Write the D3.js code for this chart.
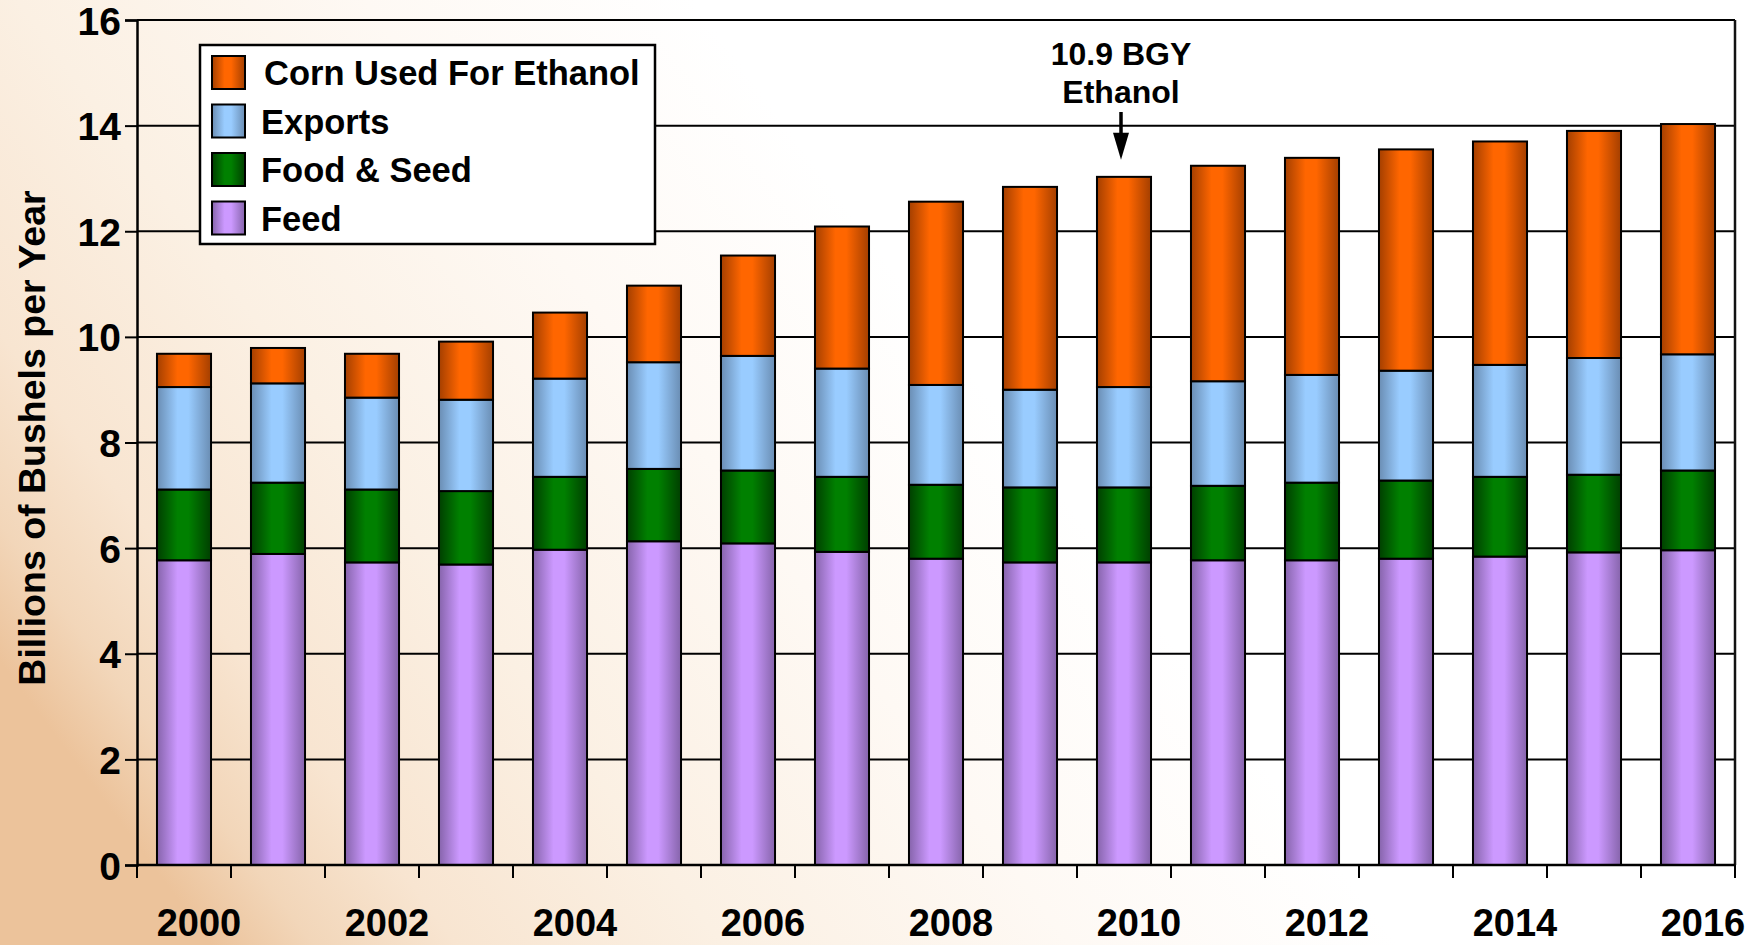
<!DOCTYPE html>
<html>
<head>
<meta charset="utf-8">
<script src="https://cdn.jsdelivr.net/npm/d3@7"></script>
<style>
    html, body { margin: 0; padding: 0; background: #fff; }
    svg { display: block; font-family: "Liberation Sans", Arial, Helvetica, sans-serif; font-weight: bold; }
</style>
</head>
<body>
<svg id="chart"></svg>
<script>
// Corn use by category, billions of bushels per year
const years = ['2000', '2001', '2002', '2003', '2004', '2005', '2006', '2007', '2008',
    '2009', '2010', '2011', '2012', '2013', '2014', '2015', '2016'];
const feed = [5.77, 5.89, 5.73, 5.69, 5.97, 6.13, 6.09, 5.93, 5.80, 5.73, 5.73, 5.77, 5.77, 5.80, 5.84, 5.92, 5.96];
const foodSeed = [1.34, 1.35, 1.38, 1.39, 1.38, 1.37, 1.38, 1.42, 1.40, 1.42, 1.42, 1.41, 1.47, 1.48, 1.51, 1.47, 1.51];
const exportsData = [1.94, 1.88, 1.74, 1.73, 1.86, 2.02, 2.17, 2.05, 1.89, 1.85, 1.90, 1.98, 2.04, 2.08, 2.12, 2.21, 2.20];
const ethanol = [0.63, 0.67, 0.83, 1.10, 1.25, 1.45, 1.90, 2.69, 3.47, 3.84, 3.98, 4.08, 4.11, 4.19, 4.23, 4.30, 4.36];

const seriesKeys = ['feed', 'food', 'exports', 'ethanol'];
const seriesNames = ['Feed', 'Food & Seed', 'Exports', 'Corn Used For Ethanol'];
const yTicks = [0, 2, 4, 6, 8, 10, 12, 14, 16];
const yearLabels = ['2000', '2002', '2004', '2006', '2008', '2010', '2012', '2014', '2016'];
const annotationYear = '2010';
const annotationLines = ['10.9 BGY', 'Ethanol'];

// colours: [dark edge, light centre]
const colors = {
    feed: ['#8664ab', '#cc99ff'],
    food: ['#003f00', '#008000'],
    exports: ['#6a8db3', '#99ccff'],
    ethanol: ['#a43f00', '#ff6600']
};

const width = 1764;
const height = 945;
const margin = {top: 20, right: 29, bottom: 80, left: 137};

const svg = d3.select('#chart')
    .attr('width', width)
    .attr('height', height);

const defs = svg.append('defs');

// background wash, peach on the left fading to white
const bg = defs.append('linearGradient')
    .attr('id', 'bg')
    .attr('x1', 0).attr('y1', 0.7)
    .attr('x2', 1).attr('y2', 0.3);
[[0, '#ecc39b'], [0.05, '#f2d6b9'], [0.12, '#f8e5d1'], [0.25, '#fbf0e3'], [0.42, '#fef9f4'], [0.58, '#ffffff'], [1, '#ffffff']]
    .forEach(s => bg.append('stop').attr('offset', s[0]).attr('stop-color', s[1]));

// cylinder shading for bars
seriesKeys.forEach(key => {
    const g = defs.append('linearGradient')
        .attr('id', 'grad-' + key)
        .attr('x1', 0).attr('x2', 1).attr('y1', 0).attr('y2', 0);
    g.append('stop').attr('offset', 0).attr('stop-color', colors[key][0]);
    g.append('stop').attr('offset', 0.38).attr('stop-color', colors[key][1]);
    g.append('stop').attr('offset', 0.58).attr('stop-color', colors[key][1]);
    g.append('stop').attr('offset', 1).attr('stop-color', colors[key][0]);
});

svg.append('rect')
    .attr('width', width)
    .attr('height', height)
    .attr('fill', 'url(#bg)');

// Build the table d3.stack needs
const table = years.map((year, i) => ({
    year: year,
    feed: feed[i],
    food: foodSeed[i],
    exports: exportsData[i],
    ethanol: ethanol[i]
}));

const stacked = d3.stack().keys(seriesKeys)(table);

const x = d3.scaleBand()
    .domain(years)
    .range([margin.left, width - margin.right])
    .paddingInner(0.425)
    .paddingOuter(0.2125);

const y = d3.scaleLinear()
    .domain([0, 16])
    .range([height - margin.bottom, margin.top]);

// Horizontal grid lines
svg.append('g')
    .selectAll('line')
    .data(yTicks.filter(d => d > 0))
    .enter().append('line')
    .attr('x1', x.range()[0])
    .attr('x2', x.range()[1])
    .attr('y1', d => y(d))
    .attr('y2', d => y(d))
    .attr('stroke', '#000')
    .attr('stroke-width', 2);

// right border
svg.append('line')
    .attr('x1', x.range()[1]).attr('x2', x.range()[1])
    .attr('y1', y(16)).attr('y2', y(0))
    .attr('stroke', '#111')
    .attr('stroke-width', 2.5);

// Stacked bars
const layers = svg.append('g')
    .selectAll('g')
    .data(stacked)
    .enter().append('g')
    .attr('fill', d => 'url(#grad-' + d.key + ')');

layers.selectAll('rect')
    .data(d => d)
    .enter().append('rect')
    .attr('x', d => x(d.data.year))
    .attr('width', x.bandwidth())
    .attr('y', d => y(d[1]))
    .attr('height', d => y(d[0]) - y(d[1]))
    .attr('stroke', '#000')
    .attr('stroke-width', 2);

// Y axis
const yAxis = svg.append('g')
    .attr('transform', `translate(${margin.left},0)`)
    .call(d3.axisLeft(y).tickValues(yTicks).tickSize(12).tickPadding(4));

yAxis.select('.domain').attr('stroke', '#000').attr('stroke-width', 2.5);
yAxis.selectAll('.tick line').attr('stroke', '#000').attr('stroke-width', 2);
yAxis.selectAll('.tick text')
    .attr('font-size', 39)
    .attr('font-weight', 'bold')
    .attr('font-family', '"Liberation Sans", Arial, sans-serif')
    .attr('fill', '#000')
    .attr('dy', '0.36em');

// X axis: baseline, tick marks between bands, labels every other year
svg.append('line')
    .attr('x1', x.range()[0]).attr('x2', x.range()[1])
    .attr('y1', y(0)).attr('y2', y(0))
    .attr('stroke', '#000')
    .attr('stroke-width', 2.5);

const gap = (x.step() - x.bandwidth()) / 2;
const boundaries = years.map(d => x(d) - gap).concat([x.range()[1]]);

svg.append('g')
    .selectAll('line')
    .data(boundaries)
    .enter().append('line')
    .attr('x1', d => d).attr('x2', d => d)
    .attr('y1', y(0)).attr('y2', y(0) + 13)
    .attr('stroke', '#000')
    .attr('stroke-width', 2);

// labels sit a little right of their bars, as in the original slide
svg.append('g')
    .selectAll('text')
    .data(yearLabels)
    .enter().append('text')
    .attr('x', d => x(d) + x.bandwidth() / 2 + 15)
    .attr('y', y(0) + 71)
    .attr('text-anchor', 'middle')
    .attr('font-size', 38)
    .attr('fill', '#000')
    .text(d => d);

// Y axis title
svg.append('text')
    .attr('transform', `translate(45,438) rotate(-90)`)
    .attr('text-anchor', 'middle')
    .attr('font-size', 37.5)
    .attr('fill', '#000')
    .text('Billions of Bushels per Year');

// Legend
const legend = svg.append('g').attr('transform', 'translate(200,45)');

legend.append('rect')
    .attr('width', 455)
    .attr('height', 199)
    .attr('fill', '#fff')
    .attr('stroke', '#000')
    .attr('stroke-width', 2.5);

const legendOrder = seriesKeys.slice().reverse();

const legendItems = legend.selectAll('.legend-item')
    .data(legendOrder)
    .enter().append('g')
    .attr('class', 'legend-item')
    .attr('transform', (d, i) => `translate(12,${11 + i * 48.5})`);

legendItems.append('rect')
    .attr('width', 33)
    .attr('height', 33)
    .attr('fill', d => 'url(#grad-' + d + ')')
    .attr('stroke', '#000')
    .attr('stroke-width', 2);

legendItems.append('text')
    .attr('x', (d, i) => i === 0 ? 52 : 49)
    .attr('y', 29)
    .attr('font-size', 34.5)
    .attr('fill', '#000')
    .text(d => seriesNames[seriesKeys.indexOf(d)]);

// Annotation above 2010 bar
const annIndex = years.indexOf(annotationYear);
const annX = x(annotationYear) + x.bandwidth() / 2 - 3;
const annTop = y(d3.sum(seriesKeys, k => table[annIndex][k]));

svg.append('g')
    .selectAll('text')
    .data(annotationLines)
    .enter().append('text')
    .attr('x', annX)
    .attr('y', (d, i) => 65 + i * 38)
    .attr('text-anchor', 'middle')
    .attr('font-size', 32)
    .attr('fill', '#000')
    .text(d => d);

svg.append('line')
    .attr('x1', annX).attr('x2', annX)
    .attr('y1', 112).attr('y2', annTop - 40)
    .attr('stroke', '#000')
    .attr('stroke-width', 3.5);

svg.append('path')
    .attr('d', `M${annX - 8},${annTop - 44} L${annX + 8},${annTop - 44} L${annX},${annTop - 17} Z`)
    .attr('fill', '#000');
</script>
</body>
</html>
